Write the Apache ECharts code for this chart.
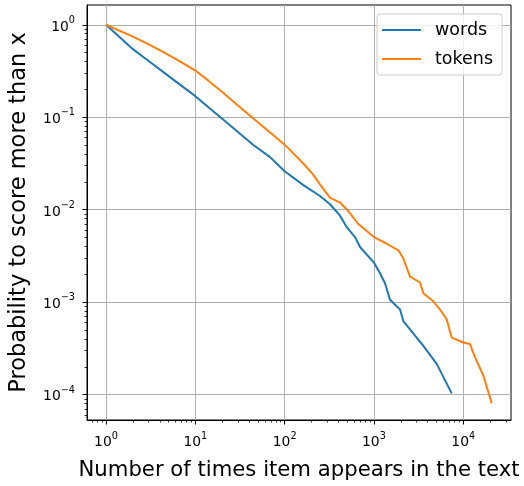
<!DOCTYPE html>
<html>
<head>
<meta charset="utf-8">
<style>
  html, body { margin: 0; padding: 0; background: #ffffff; }
  #chart { width: 524px; height: 486px; }
</style>
<script src="https://cdn.jsdelivr.net/npm/echarts@6/dist/echarts.min.js"></script>
</head>
<body>
<div id="chart"></div>
<script>
// Complementary cumulative distribution: P(count > x) for words and tokens
const wordsX = [1, 2, 3, 4.5, 6.5, 10, 14, 20, 30, 45, 68.7, 100, 162, 249, 322, 417, 496, 614, 698, 1000, 1169, 1331, 1514, 1960, 2134, 3573, 5047, 7430];
const wordsY = [1, 0.545, 0.406, 0.302, 0.231, 0.169, 0.1285, 0.0961, 0.0692, 0.0498, 0.037, 0.026, 0.01845, 0.01407, 0.01145, 0.00861, 0.00646, 0.00505, 0.00395, 0.00268, 0.00205, 0.0016, 0.00106, 0.000832, 0.000624, 0.000337, 0.000215, 0.000103];

const tokensX = [1, 2, 3, 4.5, 6.5, 10, 14, 20, 30, 45, 68.7, 100, 162, 209, 249, 322, 417, 500, 669, 1000, 1390, 1877, 2134, 2536, 3281, 3573, 4627, 5495, 6532, 7430, 10000, 11910, 13550, 16800, 20850];
const tokensY = [1, 0.743, 0.613, 0.499, 0.409, 0.32, 0.2486, 0.1875, 0.134, 0.0961, 0.0684, 0.0505, 0.0316, 0.0239, 0.0187, 0.0135, 0.01194, 0.0100, 0.0070, 0.00505, 0.00428, 0.00364, 0.00296, 0.00189, 0.00163, 0.00125, 0.00102, 0.000832, 0.00065, 0.000413, 0.000366, 0.000352, 0.000253, 0.000161, 0.0000804];

const seriesNames = ['words', 'tokens'];
const seriesColors = ['#1f77b4', '#ff7f0e'];

const xMajorTicks = [1, 10, 100, 1000, 10000];
const yMajorTicks = [0.0001, 0.001, 0.01, 0.1, 1];

const xRange = [0.612, 34270];
const yRange = [5.31e-5, 1.636];

const xTitle = 'Number of times item appears in the text';
const yTitle = 'Probability to score more than x';

// minor ticks at 2..9 of every decade inside the axis range
function minorTicks(range) {
  const out = [];
  const lo = Math.floor(Math.log10(range[0]));
  const hi = Math.ceil(Math.log10(range[1]));
  for (let k = lo; k <= hi; k++) {
    for (let m = 2; m <= 9; m++) {
      const v = parseFloat((m * Math.pow(10, k)).toPrecision(6));
      if (v >= range[0] && v <= range[1]) out.push(v);
    }
  }
  return out;
}

// "10" with a raised exponent
function powLabel(v) {
  const e = String(Math.round(Math.log10(v))).replace('-', '\u2212');
  return '{b|10}{s|' + e + '}';
}

const FONT = 'DejaVu Sans';
const powRich = {
  b: { fontFamily: FONT, fontSize: 13.9, color: '#000000', verticalAlign: 'bottom' },
  s: { fontFamily: FONT, fontSize: 9.7, color: '#000000', verticalAlign: 'bottom', padding: [0, 0, 8.5, 0] }
};
const zip = (xs, ys) => xs.map((x, i) => [x, ys[i]]);

const chart = echarts.init(document.getElementById('chart'), null, { renderer: 'canvas' });

const baseX = {
  type: 'log', logBase: 10, gridIndex: 0, position: 'bottom',
  min: xRange[0], max: xRange[1]
};
const baseY = {
  type: 'log', logBase: 10, gridIndex: 0, position: 'left',
  min: yRange[0], max: yRange[1]
};

chart.setOption({
  animation: false,
  backgroundColor: '#ffffff',
  grid: {
    left: 87, right: 13, top: 5, bottom: 59,
    show: true, borderColor: '#000000', borderWidth: 1, backgroundColor: 'transparent'
  },
  legend: {
    data: seriesNames,
    orient: 'vertical',
    left: 377, top: 14,
    padding: [7, 9, 7, 5],
    itemWidth: 39, itemHeight: 2,
    itemGap: 11,
    icon: 'rect',
    backgroundColor: 'rgba(255,255,255,0.8)',
    borderColor: '#cccccc', borderWidth: 1, borderRadius: 3,
    textStyle: { fontFamily: FONT, fontSize: 17.5, color: '#000000', padding: [0, 0, 0, 9] }
  },
  xAxis: [
    Object.assign({}, baseX, {
      name: xTitle,
      nameLocation: 'middle',
      nameGap: 40,
      nameTextStyle: { fontFamily: FONT, fontSize: 21.2, color: '#000000' },
      axisLine: { show: true, lineStyle: { color: '#000000', width: 1 } },
      axisTick: { show: true, inside: false, length: 4.5, customValues: xMajorTicks, lineStyle: { color: '#000000', width: 1 } },
      axisLabel: { customValues: xMajorTicks, formatter: powLabel, margin: 11, rich: powRich },
      splitLine: { show: true, lineStyle: { color: '#b0b0b0', width: 1 } }
    }),
    Object.assign({}, baseX, {
      axisLine: { show: false },
      axisTick: { show: true, inside: false, length: 2.5, customValues: minorTicks(xRange), lineStyle: { color: '#000000', width: 0.8 } },
      axisLabel: { show: false },
      splitLine: { show: false }
    })
  ],
  yAxis: [
    Object.assign({}, baseY, {
      name: yTitle,
      nameLocation: 'middle',
      nameGap: 56,
      nameRotate: 90,
      nameTextStyle: { fontFamily: FONT, fontSize: 22.5, color: '#000000' },
      axisLine: { show: true, lineStyle: { color: '#000000', width: 1 } },
      axisTick: { show: true, inside: false, length: 4.5, customValues: yMajorTicks, lineStyle: { color: '#000000', width: 1 } },
      axisLabel: { customValues: yMajorTicks, formatter: powLabel, margin: 12, rich: powRich },
      splitLine: { show: true, lineStyle: { color: '#b0b0b0', width: 1 } }
    }),
    Object.assign({}, baseY, {
      axisLine: { show: false },
      axisTick: { show: true, inside: false, length: 2.5, customValues: minorTicks(yRange), lineStyle: { color: '#000000', width: 0.8 } },
      axisLabel: { show: false },
      splitLine: { show: false }
    })
  ],
  series: [
    {
      name: seriesNames[0], type: 'line', xAxisIndex: 0, yAxisIndex: 0,
      data: zip(wordsX, wordsY), showSymbol: false, symbol: 'none',
      lineStyle: { color: seriesColors[0], width: 2 }, itemStyle: { color: seriesColors[0] },
      z: 3
    },
    {
      name: seriesNames[1], type: 'line', xAxisIndex: 0, yAxisIndex: 0,
      data: zip(tokensX, tokensY), showSymbol: false, symbol: 'none',
      lineStyle: { color: seriesColors[1], width: 2 }, itemStyle: { color: seriesColors[1] },
      z: 3
    }
  ]
});
</script>
</body>
</html>
